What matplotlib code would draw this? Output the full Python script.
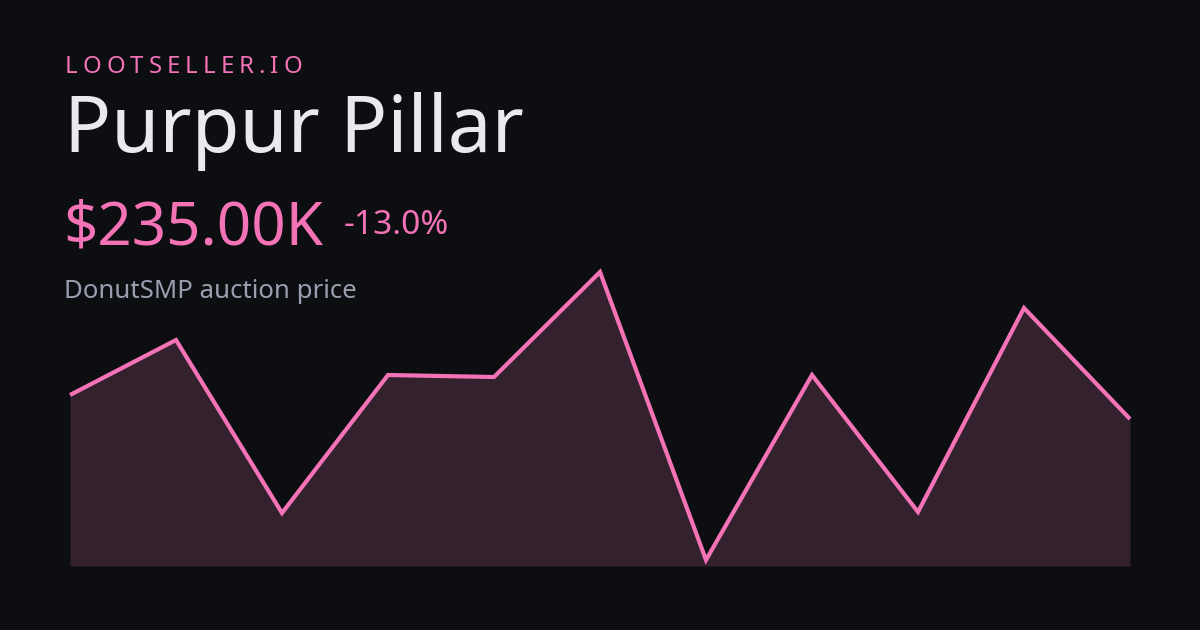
import matplotlib
matplotlib.use("Agg")
import matplotlib.pyplot as plt
from matplotlib.transforms import Affine2D

# ---- data ----
points = list(range(11))
values = [171, 226, 53, 191, 189, 294, 6, 191, 54, 258, 147]

brand = "LOOTSELLER.IO"
title = "Purpur Pillar"
price = "$235.00K"
change = "-13.0%"
subtitle = "DonutSMP auction price"

BG = "#0d0e12"
PINK = "#f472b6"
FILL = "#33212d"
W, H = 1200, 630
DPI = 100

fig = plt.figure(figsize=(W / DPI, H / DPI), dpi=DPI, facecolor=BG)
FONT = ["Noto Sans", "DejaVu Sans"]

def pt(px):
    return px * 72 / DPI

# pixel transform with y measured from top
pix = Affine2D().scale(1 / W, -1 / H).translate(0, 1) + fig.transFigure

# ---- chart ----
left, right, bottom, top = 70, 1130, 566, 266
ax = fig.add_axes([left / W, 1 - bottom / H, (right - left) / W, (bottom - top) / H])
ax.set_facecolor("none")
ax.fill_between(points, values, 0, color=FILL, linewidth=0, zorder=1)
ax.plot(points, values, color=PINK, lw=3.0, clip_on=False, solid_joinstyle="miter",
        solid_capstyle="butt", zorder=2)
ax.set_xlim(points[0], points[-1])
ax.set_ylim(0, 300)
ax.axis("off")

# ---- text ----
renderer = fig.canvas.get_renderer()

# letter-spaced brand
x = 65
spacing = 5.0
for ch in brand:
    t = fig.text(x, 73, ch, transform=pix, fontsize=pt(24), color=PINK, family=FONT,
                 va="baseline", ha="left")
    bb = t.get_window_extent(renderer=renderer)
    x += bb.width + spacing

fig.text(64, 152, title, transform=pix, fontsize=pt(78), color="#e9eaee", family=FONT,
         va="baseline", ha="left")
fig.text(63, 244, price, transform=pix, fontsize=pt(60), color=PINK, family=FONT,
         va="baseline", ha="left")
fig.text(344, 234, change, transform=pix, fontsize=pt(33.5), color=PINK, family=FONT,
         va="baseline", ha="left")
fig.text(64, 298, subtitle, transform=pix, fontsize=pt(25.8), color="#9a9fb0", family=FONT,
         va="baseline", ha="left")

fig.savefig("out.png", dpi=DPI, facecolor=BG)
